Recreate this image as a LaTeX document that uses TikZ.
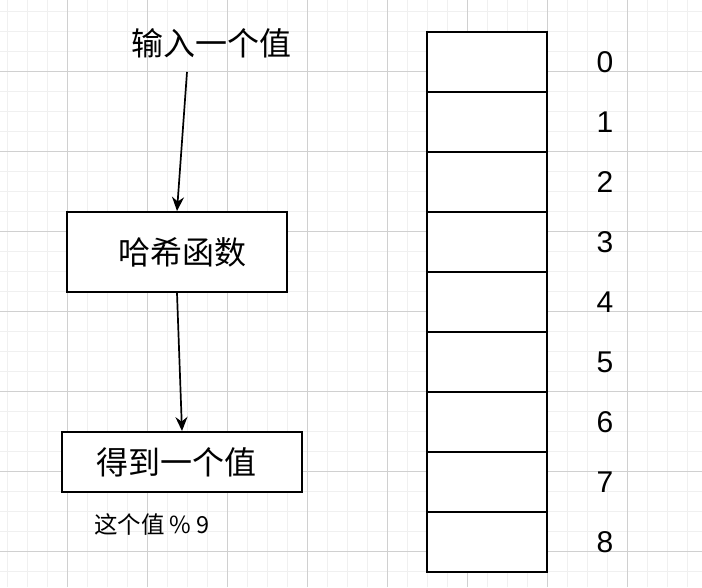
\documentclass[tikz,border=0pt]{standalone}
\usepackage{fontspec}
\setmainfont{Liberation Sans}
\newfontfamily\cjk{Noto Sans CJK SC}
\usetikzlibrary{arrows.meta}
\definecolor{minorgrid}{HTML}{F0F0F0}
\definecolor{majorgrid}{HTML}{D0D0D0}
\tikzset{
  box/.style={draw=black, line width=2pt, fill=white, inner sep=0pt},
  cell/.style={box, minimum width=120pt, minimum height=60pt},
  bigtxt/.style={font=\cjk\fontsize{32}{34}\selectfont, inner sep=0pt},
  smalltxt/.style={font=\cjk\fontsize{23.5}{25}\selectfont, inner sep=0pt},
  idx/.style={font=\fontsize{30}{32}\selectfont, inner sep=0pt},
  arr/.style={line width=1.7pt, -{Stealth[length=14pt,width=12pt]}}
}
\begin{document}
\begin{tikzpicture}[x=1pt,y=-1pt]
\useasboundingbox (0,0) rectangle (702,587);
\fill[white] (0,0) rectangle (702,587);
% grid
\foreach \x in {7,27,...,702} \draw[minorgrid, line width=1pt] (\x,0) -- (\x,587);
\foreach \y in {11,31,...,587} \draw[minorgrid, line width=1pt] (0,\y) -- (702,\y);
\foreach \x in {67,147,...,702} \draw[majorgrid, line width=1pt] (\x,0) -- (\x,587);
\foreach \y in {71,151,...,587} \draw[majorgrid, line width=1pt] (0,\y) -- (702,\y);
% left flow
\node[bigtxt] (in) at (211,43) {输入一个值};
\node[box, minimum width=220pt, minimum height=80pt] (hash) at (177,252) {};
\node[bigtxt] at (182,252) {哈希函数};
\node[box, minimum width=240pt, minimum height=60pt] (res) at (182,462) {};
\node[bigtxt] at (176,462) {得到一个值};
\node[smalltxt] (mod) at (152,524) {这个值 \% 9};
\draw[arr] ([xshift=-24pt,yshift=-14pt]in.south) -- ([xshift=0pt]hash.north);
\draw[arr] (hash.south) -- ([xshift=0pt]res.north);
% array
\foreach \i in {0,...,8} {
  \node[cell] (c\i) at (487,62+60*\i) {};
  \node[idx] (n\i) at (605,62+60*\i) {\i};
}
\end{tikzpicture}
\end{document}
